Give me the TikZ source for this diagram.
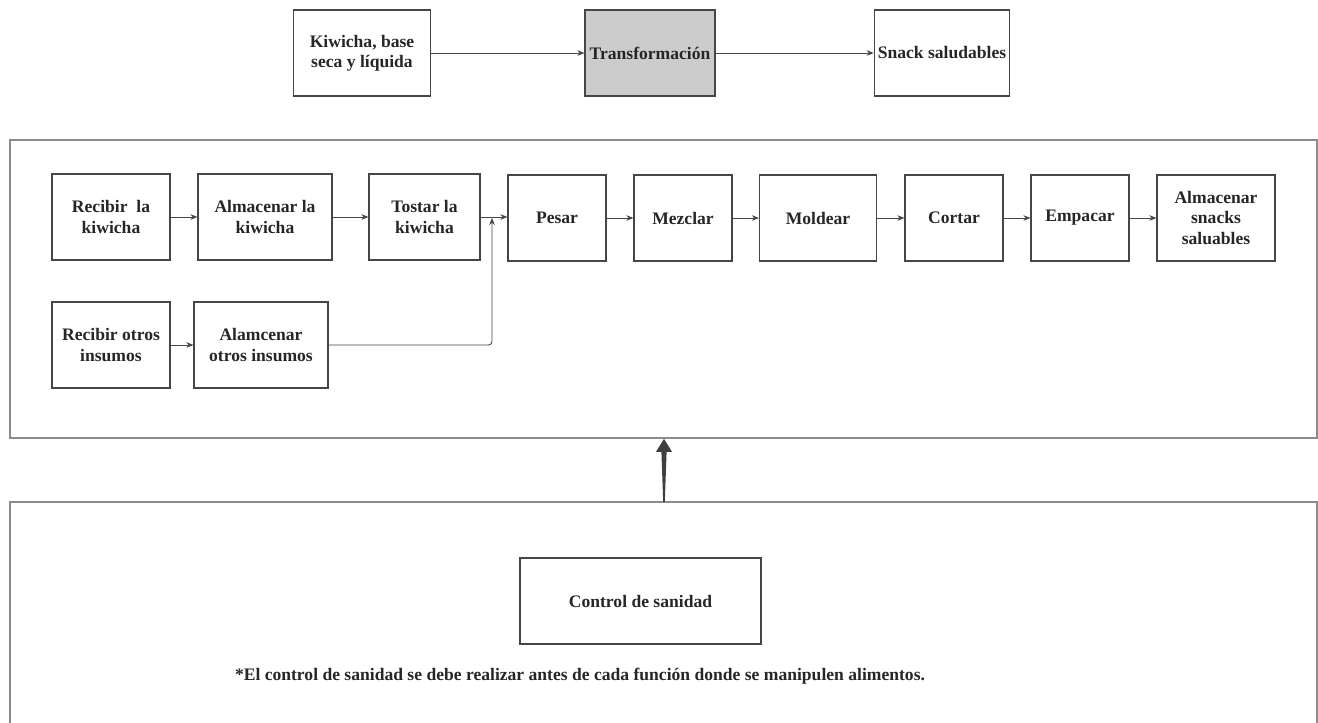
\documentclass[tikz,border=0pt]{standalone}
\usepackage{fontspec}
\setmainfont{Liberation Serif}
\usepackage{tikz}
\usetikzlibrary{arrows.meta, positioning, calc}
\definecolor{boxgray}{RGB}{204, 204, 204}
\definecolor{zonegray}{RGB}{140, 140, 140}
\definecolor{linegray}{RGB}{70, 70, 70}

\begin{document}
\begin{tikzpicture}[x=0.02cm, y=-0.02cm,
    proc/.style={draw=linegray, line width=0.7pt, align=center, inner sep=2pt,
      font=\bfseries\fontsize{10}{11.5}\selectfont, text=black!85, minimum height=1.72cm},
    flow/.style={draw=linegray, line width=0.5pt, -{Stealth[length=4pt, width=3.2pt]}},
    zona/.style={draw=zonegray, line width=1pt}]
        \useasboundingbox (0,0) rectangle (1318,723);

        % Top level: input -> transformation -> output
        \node[proc, minimum width=2.74cm] (insumo) at (362,53) {Kiwicha, base\\seca y líquida};
        \node[proc, fill=boxgray, minimum width=2.6cm] (transf) at (650,53) {Transformación};
        \node[proc, minimum width=2.7cm] (snack) at (942,53) {Snack saludables};
        \draw[flow] (insumo) -- (transf);
        \draw[flow] (transf) -- (snack);

        % Process frame
        \node[zona, minimum width=26.14cm, minimum height=5.96cm] (linea) at (663.5,289) {};

        % Main line
        \node[proc, minimum width=2.36cm] (recibir) at (111,217) {Recibir \ la\\kiwicha};
        \node[proc, minimum width=2.68cm] (almacenar) at (265,217) {Almacenar la\\kiwicha};
        \node[proc, minimum width=2.22cm] (tostar) at (424.5,217) {Tostar la\\kiwicha};
        \node[proc, minimum width=1.96cm] (pesar) at (557,218) {Pesar};
        \node[proc, minimum width=1.96cm] (mezclar) at (683,218) {Mezclar};
        \node[proc, minimum width=2.34cm] (moldear) at (818,218) {Moldear};
        \node[proc, minimum width=1.96cm] (cortar) at (954,218) {Cortar};
        \node[proc, minimum width=1.96cm] (empacar) at (1080,218) {Empacar};
        \node[proc, minimum width=2.36cm] (almsnack) at (1216,218) {Almacenar\\snacks\\saluables};
        \draw[flow] (recibir) -- (almacenar);
        \draw[flow] (almacenar) -- (tostar);
        \draw[flow] (tostar.east) -- (pesar.west |- tostar.east);
        \draw[flow] (pesar) -- (mezclar);
        \draw[flow] (mezclar) -- (moldear);
        \draw[flow] (moldear) -- (cortar);
        \draw[flow] (cortar) -- (empacar);
        \draw[flow] (empacar) -- (almsnack);

        % Other inputs
        \node[proc, minimum width=2.36cm] (recotros) at (111,345) {Recibir otros\\insumos};
        \node[proc, minimum width=2.68cm] (almotros) at (261,345) {Alamcenar\\otros insumos};
        \coordinate (merge) at (492,218);
        \draw[flow] (recotros) -- (almotros);
        \draw[flow, rounded corners=2pt] (almotros.east) -| (merge);

        % Sanitary control frame
        \draw[zona] (10,723) -- (10,502) -- (1317,502) -- (1317,723);
        \coordinate (ctrltop) at (664,502);
        \coordinate (tip) at (linea.south -| ctrltop);
        \fill[linegray!90!black] ($(ctrltop)+(-0.8,0)$) -- ($(tip)+(-2.6,13)$) -- ($(tip)+(-8,13)$)
          -- (tip) -- ($(tip)+(8,13)$) -- ($(tip)+(2.6,13)$) -- ($(ctrltop)+(0.8,0)$) -- cycle;

        \node[proc, minimum width=4.82cm] (control) at (640.5,601) {Control de sanidad};
        \node[font=\bfseries\fontsize{10}{11.5}\selectfont, text=black!85] (nota) at (580,676)
          {*El control de sanidad se debe realizar antes de cada función donde se manipulen alimentos.};
      \end{tikzpicture}
\end{document}
